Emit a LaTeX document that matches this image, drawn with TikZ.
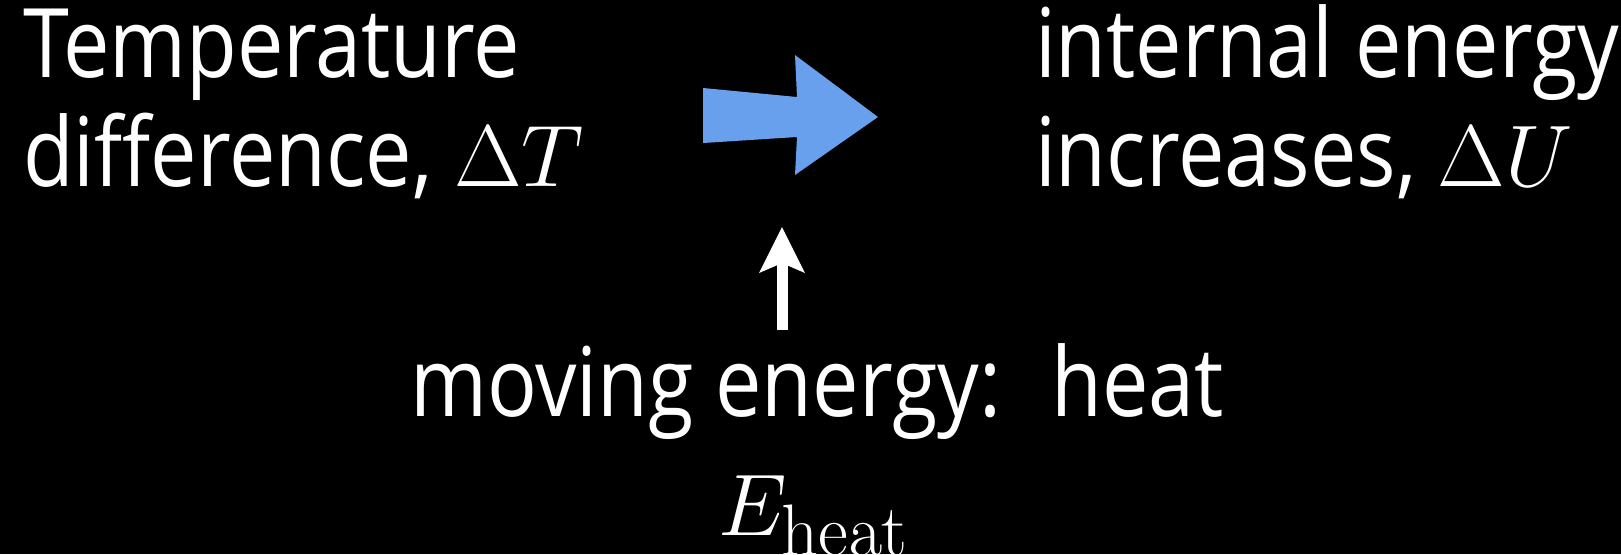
\documentclass[tikz,border=0pt]{standalone}
\usepackage[no-math]{fontspec}
\setmainfont[FakeStretch=0.862]{Open Sans}
\usetikzlibrary{arrows.meta}
\begin{document}
\begin{tikzpicture}[x=0.01cm,y=-0.01cm,every node/.style={text=white, inner sep=0pt, outer sep=0pt, font=\fontsize{27.3pt}{31pt}\selectfont}]
\useasboundingbox[fill=black] (0,0) rectangle (1621,554);
\node[anchor=base west] (temp) at (23,77) {Temperature};
\node[anchor=base west] (diff) at (23,186) {difference, $\Delta T$};
\node[anchor=base west] (intern) at (1035,77) {internal energy};
\node[anchor=base west] (incr) at (1035,186) {increases, $\Delta U$};
\node[anchor=base] (moving) at (817,416) {moving energy:~ heat};
\node[anchor=base] (eheat) at (814,535) {$E_{\mathrm{heat}}$};
% blue arrow
\fill[fill={rgb,255:red,104;green,160;blue,238}] (703,88) -- (797,97) -- (795,55) -- (878,117) -- (795,175) -- (797,137) -- (703,143) -- cycle;
\coordinate (foot) at (782,330);
\coordinate (tip) at (782,227);
\draw[white, line width=3.13pt, -{Stealth[length=12.8pt, width=12.5pt, inset=2.56pt]}] (foot) -- (tip);
\end{tikzpicture}
\end{document}
